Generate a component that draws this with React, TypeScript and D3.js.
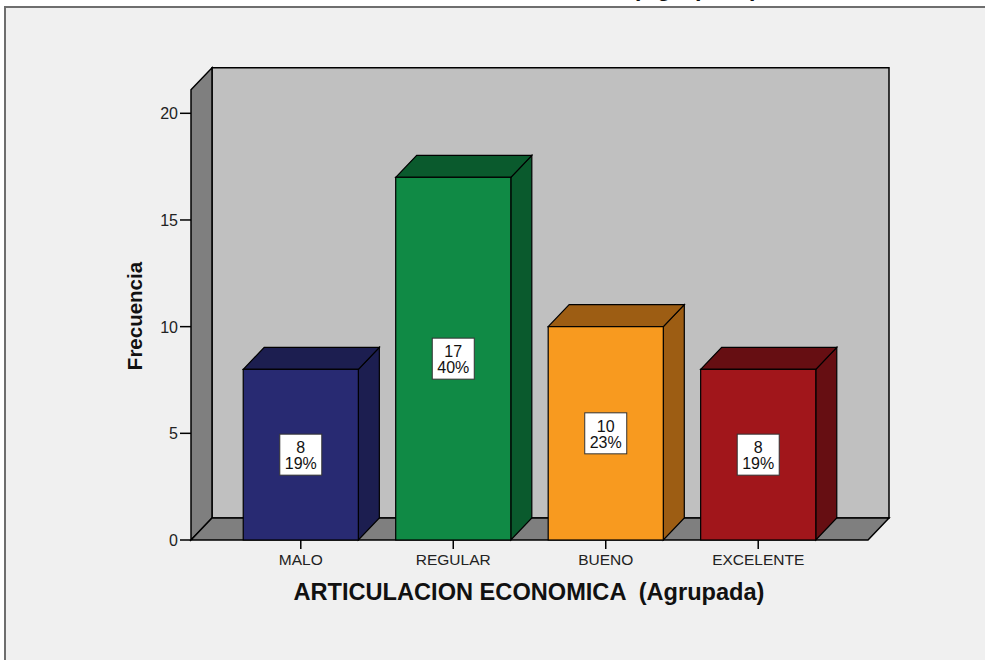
import React from "react";
import * as d3 from "d3";

const categories = ["MALO", "REGULAR", "BUENO", "EXCELENTE"];
const counts = [8, 17, 10, 8];
const percents = ["19%", "40%", "23%", "19%"];
const yTicks = [0, 5, 10, 15, 20];
const frontColors = ["#282a72", "#108a45", "#f89a1f", "#a1161b"];
const darkColors = ["#1c1e50", "#0a5a2d", "#9d5d13", "#660e12"];
const xTitle = "ARTICULACION ECONOMICA  (Agrupada)";
const yTitle = "Frecuencia";

const FONT = "'Liberation Sans', Arial, Helvetica, sans-serif";

export default function App() {
  const W = 985;
  const H = 660;
  const dx = 21;
  const dy = -22;
  const yMaxFrame = 21.1;
  const y = d3.scaleLinear().domain([0, 20]).range([540, 113.3]);
  const x = d3.scalePoint<string>().domain(categories).range([191, 868]).padding(0.72);
  const step = x.step();
  const bw = step * 0.755;
  const left = 191;
  const right = 868;
  const y0 = y(0);
  const yTop = y(yMaxFrame);

  const pts = (arr: [number, number][]) => arr.map((p) => p.join(",")).join(" ");

  return (
    <svg
      width={W}
      height={H}
      style={{ position: "fixed", left: 0, top: 0, background: "#ffffff" }}
    >
      {/* clipped title at top */}
      <text
        x={758}
        y={-4.5}
        textAnchor="end"
        fontFamily={FONT}
        fontWeight="bold"
        fontSize={23.6}
        fill="#111"
        style={{ whiteSpace: "pre" }}
      >
        {xTitle}
      </text>
      {/* frame */}
      <rect x={5} y={7} width={W + 10} height={H + 10} fill="#f0f0f0" stroke="#6e6e6e" strokeWidth={2} />

      {/* back wall */}
      <polygon
        points={pts([
          [left + dx, yTop + dy],
          [right + dx, yTop + dy],
          [right + dx, y0 + dy],
          [left + dx, y0 + dy],
        ])}
        fill="#c0c0c0"
        stroke="#000"
        strokeWidth={1.5}
      />
      {/* side wall */}
      <polygon
        points={pts([
          [left, yTop],
          [left + dx, yTop + dy],
          [left + dx, y0 + dy],
          [left, y0],
        ])}
        fill="#7f7f7f"
        stroke="#000"
        strokeWidth={1.5}
      />
      {/* floor */}
      <polygon
        points={pts([
          [left, y0],
          [left + dx, y0 + dy],
          [right + dx, y0 + dy],
          [right, y0],
        ])}
        fill="#7f7f7f"
        stroke="#000"
        strokeWidth={1.5}
      />

      {/* y axis ticks */}
      {yTicks.map((t) => (
        <g key={t}>
          <line x1={left - 11} x2={left} y1={y(t)} y2={y(t)} stroke="#000" strokeWidth={1.5} />
          <text
            x={left - 13}
            y={y(t) + 6}
            textAnchor="end"
            fontFamily={FONT}
            fontSize={16}
            fill="#222"
          >
            {t}
          </text>
        </g>
      ))}

      {/* bars */}
      {categories.map((c, i) => {
        const cx = x(c) as number;
        const x0 = cx - bw / 2;
        const x1 = cx + bw / 2;
        const yt = y(counts[i]);
        const cy = (yt + y0) / 2;
        return (
          <g key={c}>
            <polygon
              points={pts([
                [x1, yt],
                [x1 + dx, yt + dy],
                [x1 + dx, y0 + dy],
                [x1, y0],
              ])}
              fill={darkColors[i]}
              stroke="#000"
              strokeWidth={1.2}
            />
            <polygon
              points={pts([
                [x0, yt],
                [x0 + dx, yt + dy],
                [x1 + dx, yt + dy],
                [x1, yt],
              ])}
              fill={darkColors[i]}
              stroke="#000"
              strokeWidth={1.2}
            />
            <rect x={x0} y={yt} width={bw} height={y0 - yt} fill={frontColors[i]} stroke="#000" strokeWidth={1.2} />
            <rect x={cx - 21} y={cy - 20.5} width={42} height={41} fill="#fff" stroke="#333" strokeWidth={1} />
            <text x={cx} y={cy - 1.5} textAnchor="middle" fontFamily={FONT} fontSize={16} fill="#111">
              {counts[i]}
            </text>
            <text x={cx} y={cy + 14.5} textAnchor="middle" fontFamily={FONT} fontSize={16} fill="#111">
              {percents[i]}
            </text>
            {/* x tick */}
            <line x1={cx} x2={cx} y1={y0} y2={y0 + 9} stroke="#000" strokeWidth={1.5} />
            <text x={cx} y={564.5} textAnchor="middle" fontFamily={FONT} fontSize={15.5} fill="#222">
              {c}
            </text>
          </g>
        );
      })}

      {/* axis titles */}
      <text
        x={529}
        y={600}
        textAnchor="middle"
        fontFamily={FONT}
        fontWeight="bold"
        fontSize={23.6}
        fill="#111"
        style={{ whiteSpace: "pre" }}
      >
        {xTitle}
      </text>
      <text
        transform={`translate(141.5, 316) rotate(-90)`}
        textAnchor="middle"
        fontFamily={FONT}
        fontWeight="bold"
        fontSize={20.5}
        fill="#111"
      >
        {yTitle}
      </text>
    </svg>
  );
}
